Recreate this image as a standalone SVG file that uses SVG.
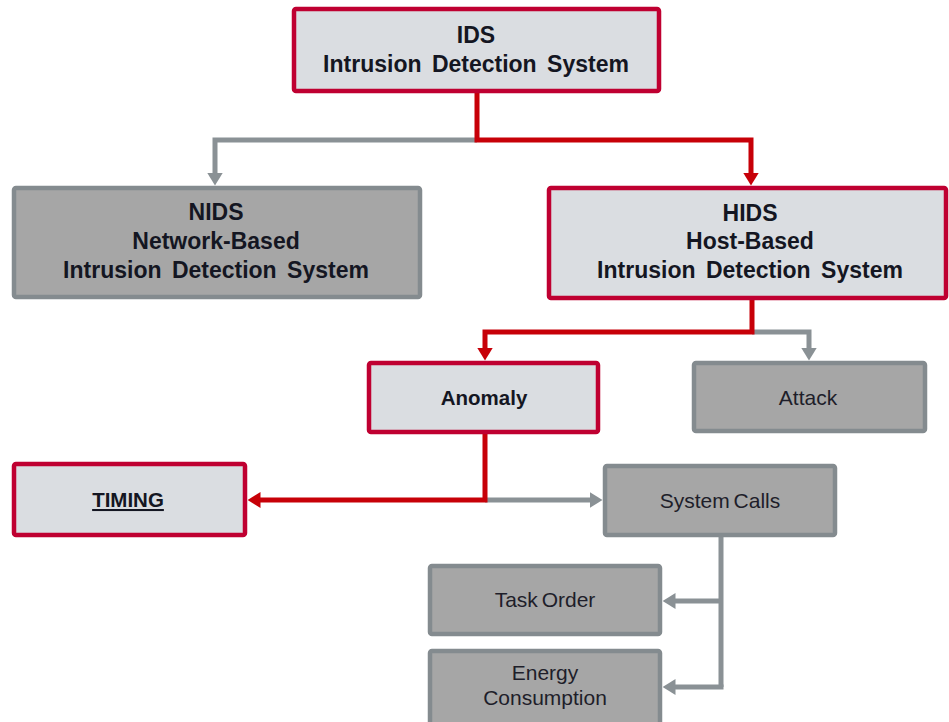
<svg xmlns="http://www.w3.org/2000/svg" width="949" height="722" viewBox="0 0 949 722">
  <style>
    .hi { fill: #dadde1; stroke: #bf0031; stroke-width: 4.5; }
    .lo { fill: #a6a6a6; stroke: #848b8f; stroke-width: 4.5; }
    .big { font-family: "Liberation Sans", Arial, sans-serif; font-weight: bold; font-size: 23px; word-spacing: 4px; fill: #141622; text-anchor: middle; }
    .mid { font-family: "Liberation Sans", Arial, sans-serif; font-weight: bold; font-size: 20.5px; fill: #141622; text-anchor: middle; }
    .reg { font-family: "Liberation Sans", Arial, sans-serif; font-size: 21px; word-spacing: -2px; fill: #1e1e2a; text-anchor: middle; }
    .red { fill: none; stroke: #c70008; stroke-width: 5; }
    .gry { fill: none; stroke: #8a9195; stroke-width: 5; }
  </style>
  <defs>
    <marker id="ah-red" markerUnits="userSpaceOnUse" markerWidth="13" markerHeight="16" viewBox="0 0 13 16" refX="0.5" refY="8" orient="auto">
      <path d="M0,0 L13,8 L0,16 Z" fill="#c70008"/>
    </marker>
    <marker id="ah-gry" markerUnits="userSpaceOnUse" markerWidth="13" markerHeight="16" viewBox="0 0 13 16" refX="0.5" refY="8" orient="auto">
      <path d="M0,0 L13,8 L0,16 Z" fill="#8a9195"/>
    </marker>
  </defs>

  <rect width="949" height="722" fill="#ffffff"/>

  <g id="connectors">
    <path class="gry" d="M477,140 H215 V173" marker-end="url(#ah-gry)"/>
    <path class="red" d="M477,93 V140 H751 V173" marker-end="url(#ah-red)"/>
    <path class="gry" d="M752,332 H809 V348" marker-end="url(#ah-gry)"/>
    <path class="red" d="M752,300 V332 H485 V348" marker-end="url(#ah-red)"/>
    <path class="gry" d="M485,500 H590" marker-end="url(#ah-gry)"/>
    <path class="red" d="M485,434 V500 H260" marker-end="url(#ah-red)"/>
    <path class="gry" d="M721,537 V687"/>
    <path class="gry" d="M721,601 H675" marker-end="url(#ah-gry)"/>
    <path class="gry" d="M723.5,687 H675" marker-end="url(#ah-gry)"/>
  </g>

  <g id="ids">
    <rect class="hi" x="294" y="9" width="365" height="82" rx="2"/>
    <text class="big" x="476" y="43">IDS</text>
    <text class="big" x="476" y="72">Intrusion Detection System</text>
  </g>

  <g id="nids">
    <rect class="lo" x="14" y="188" width="406" height="109" rx="2"/>
    <text class="big" x="216" y="220">NIDS</text>
    <text class="big" x="216" y="249">Network-Based</text>
    <text class="big" x="216" y="278">Intrusion Detection System</text>
  </g>

  <g id="hids">
    <rect class="hi" x="549" y="188" width="397" height="110" rx="2"/>
    <text class="big" x="750" y="221">HIDS</text>
    <text class="big" x="750" y="249">Host-Based</text>
    <text class="big" x="750" y="278">Intrusion Detection System</text>
  </g>

  <g id="anomaly">
    <rect class="hi" x="369" y="363" width="229" height="69" rx="2"/>
    <text class="mid" x="484" y="405">Anomaly</text>
  </g>

  <g id="attack">
    <rect class="lo" x="694" y="363" width="231" height="68" rx="2"/>
    <text class="reg" x="808" y="405">Attack</text>
  </g>

  <g id="timing">
    <rect class="hi" x="14" y="464" width="231" height="71" rx="2"/>
    <text class="mid" x="128" y="507" text-decoration="underline">TIMING</text>
  </g>

  <g id="system-calls">
    <rect class="lo" x="605" y="466" width="230" height="69" rx="2"/>
    <text class="reg" x="720" y="508">System Calls</text>
  </g>

  <g id="task-order">
    <rect class="lo" x="430" y="566" width="230" height="68" rx="2"/>
    <text class="reg" x="545" y="607">Task Order</text>
  </g>

  <g id="energy">
    <rect class="lo" x="430" y="651" width="230" height="76" rx="2"/>
    <text class="reg" x="545" y="680">Energy</text>
    <text class="reg" x="545" y="705">Consumption</text>
  </g>
</svg>
